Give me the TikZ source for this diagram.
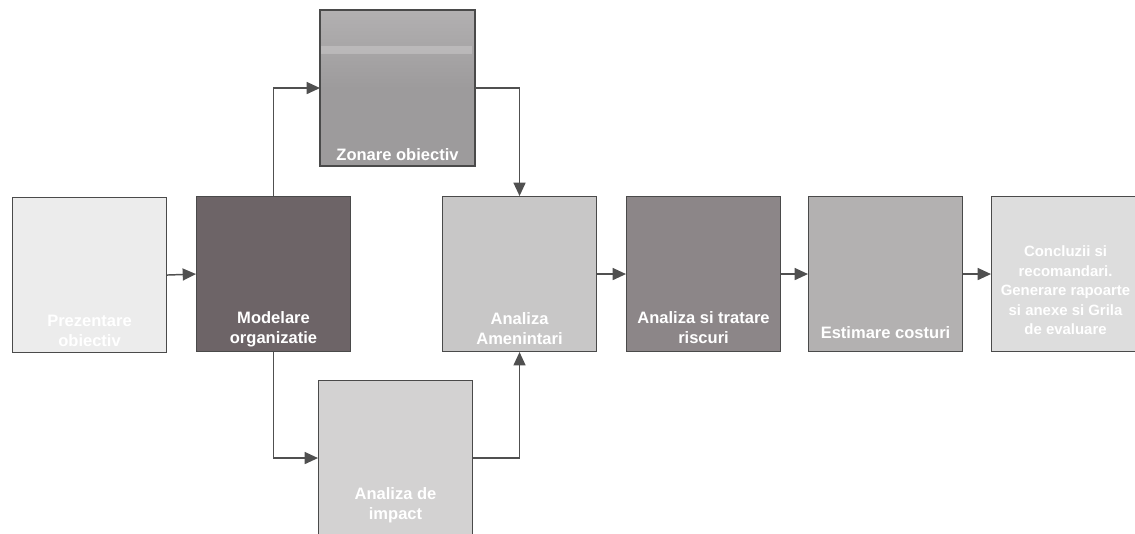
\documentclass[tikz,border=0pt]{standalone}
\usepackage{fontspec}
\setmainfont{Liberation Sans}
\usetikzlibrary{arrows.meta}
\definecolor{cEdge}{HTML}{4A4A4A}
\definecolor{cLine}{HTML}{505050}
\definecolor{cB1}{HTML}{ECECEC}
\definecolor{cMod}{HTML}{6D6467}
\definecolor{cZon}{HTML}{9D9B9C}
\definecolor{cZonTop}{HTML}{B2B0B1}
\definecolor{cAmen}{HTML}{C8C7C7}
\definecolor{cTrat}{HTML}{8C8688}
\definecolor{cEst}{HTML}{B3B1B1}
\definecolor{cConc}{HTML}{DDDDDD}
\definecolor{cImp}{HTML}{D3D2D2}
\tikzset{
  box/.style={draw=cEdge, line width=0.8pt, minimum width=154*0.75pt, minimum height=155*0.75pt, inner sep=0pt, anchor=north west},
  lbl/.style={text=white, font=\bfseries\fontsize{12.4}{15}\selectfont, align=center, anchor=south, inner sep=0pt},
  conn/.style={draw=cLine, line width=1.1pt, -{Triangle[length=10pt,width=9pt]}}
}
\begin{document}
\begin{tikzpicture}[x=0.75pt,y=-0.75pt]
\useasboundingbox (0,0) rectangle (1135,533);
\fill[white] (0,0) rectangle (1135,533);
% boxes
\node[box, fill=cB1] (pre) at (12,197) {};
\node[box, fill=cMod] (mod) at (196,196) {};
\node[box, top color=cZonTop, bottom color=cZon, middle color=cZon] (zon) at (320,10) {};
\fill[white, opacity=0.22] (321,46) rectangle (472,54);
\draw[cEdge, line width=0.8pt] (zon.north west) rectangle (zon.south east);
\node[box, fill=cImp] (imp) at (318,380) {};
\node[box, fill=cAmen] (amen) at (442,196) {};
\node[box, fill=cTrat] (trat) at (626,196) {};
\node[box, fill=cEst] (est) at (808,196) {};
\node[box, fill=cConc] (conc) at (991,196) {};
% labels
\node[lbl] (tpre) at ([yshift=6*0.75pt]pre.south) {Prezentare\\obiectiv};
\node[lbl] (tmod) at ([yshift=5*0.75pt]mod.south) {Modelare\\organizatie};
\node[lbl] (tzon) at ([yshift=5*0.75pt]zon.south) {Zonare obiectiv};
\node[lbl] (timp) at ([yshift=13*0.75pt]imp.south) {Analiza de\\impact};
\node[lbl] (tamen) at ([yshift=7*0.75pt]amen.south) {Analiza\\Amenintari};
\node[lbl] (ttrat) at ([yshift=8*0.75pt]trat.south) {Analiza si tratare\\riscuri};
\node[lbl] (test) at ([yshift=13*0.75pt]est.south) {Estimare costuri};
\node[lbl, font=\bfseries\fontsize{11.2}{14.6}\selectfont] (tconc) at ([xshift=-3*0.75pt,yshift=17*0.75pt]conc.south) {Concluzii si\\recomandari.\\Generare rapoarte\\si anexe si Grila\\de evaluare};
% connectors
\draw[conn] (pre.east) -- (mod.west);
\draw[conn] (mod.north) |- (zon.west);
\draw[conn] (zon.east) -| (amen.north);
\draw[conn] (mod.south) |- (imp.west);
\draw[conn] (imp.east) -| (amen.south);
\draw[conn] (amen.east) -- (trat.west);
\draw[conn] (trat.east) -- (est.west);
\draw[conn] (est.east) -- (conc.west);
\end{tikzpicture}
\end{document}
